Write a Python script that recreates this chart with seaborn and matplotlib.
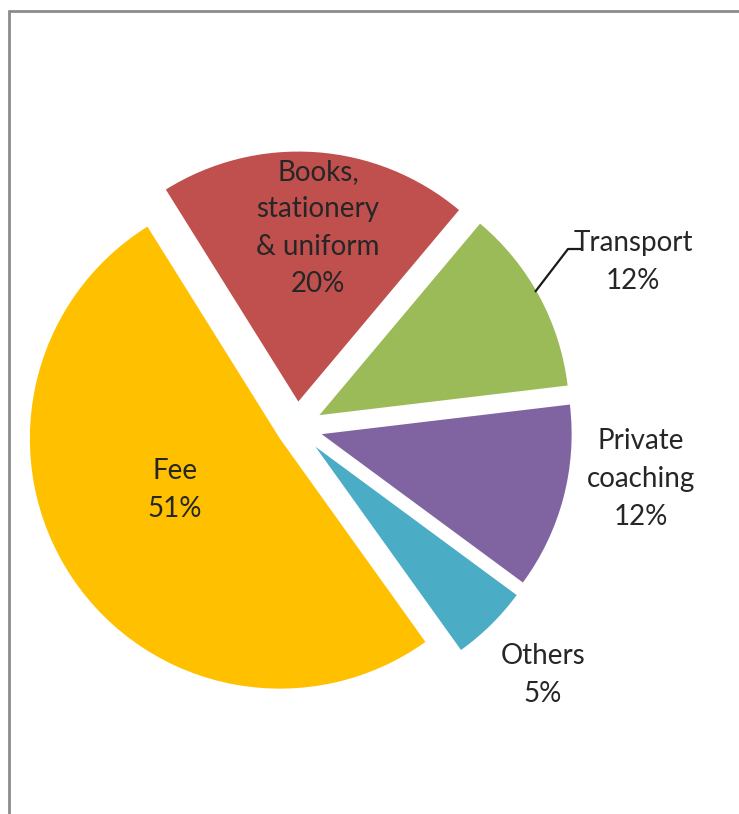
import matplotlib
matplotlib.use("Agg")
import matplotlib.pyplot as plt
from matplotlib.lines import Line2D
import seaborn as sns

# ---- data ----
categories = ["Books,\nstationery\n& uniform", "Transport", "Private\ncoaching", "Others", "Fee"]
values = [20, 12, 12, 5, 51]
colors = ["#C0504D", "#9BBB59", "#8064A2", "#4BACC6", "#FFC000"]

sns.set_theme(style="white")
plt.rcParams["font.family"] = ["Lato", "DejaVu Sans"]

W, H = 739, 814
fig = plt.figure(figsize=(W / 100, H / 100), dpi=100)
ax = fig.add_axes([0, 0, 1, 1])

cx, cy, r = 296.5, H - 427.5, 250
offsets = [26, 26, 26, 27, 20]  # explode distance (data units = pixels)
wedges, _ = ax.pie(values, colors=colors, explode=offsets, startangle=122,
                   counterclock=False, center=(cx, cy), radius=r,
                   wedgeprops=dict(linewidth=0))
ax.set_xlim(0, W)
ax.set_ylim(0, H)
ax.set_aspect("equal")
ax.axis("off")

txt = "#262626"
fs = 20
ls = 1.55
label_pos = [(318, 228), (633, 262), (641, 479), (543, 675), (175, 490)]
for cat, v, (px, py) in zip(categories, values, label_pos):
    ax.text(px, H - py, f"{cat}\n{v}%", ha="center", va="center",
            fontsize=fs, color=txt, linespacing=ls)

# leader line for Transport
ax.plot([535, 568, 583], [H - 292, H - 249, H - 249], color="#1a1a1a", lw=1.6,
        solid_capstyle="butt")

# chart-area border (top and left)
fig.add_artist(Line2D([9 / W, 1], [1 - 11 / H, 1 - 11 / H], transform=fig.transFigure,
                      color="#8c8c8c", lw=2))
fig.add_artist(Line2D([9 / W, 9 / W], [0, 1 - 11 / H], transform=fig.transFigure,
                      color="#8c8c8c", lw=2))

fig.savefig("out.png", dpi=100, facecolor="white")
